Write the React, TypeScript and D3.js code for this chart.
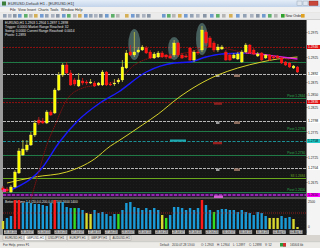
import React from 'react';
import * as d3 from 'd3';

// ---------- DATA ----------
const opens = [1.2664,1.2662,1.2656,1.2666,1.2694,1.2730,1.2740,1.2750,1.2770,1.2800,1.2798,1.2794,1.2816,1.2814,1.2860,1.2890,1.2910,1.2894,1.2880,1.2868,1.2878,1.2876,1.2874,1.2874,1.2870,1.2870,1.2896,1.2872,1.2872,1.2876,1.2880,1.2904,1.2936,1.2930,1.2936,1.2940,1.2944,1.2936,1.2924,1.2926,1.2934,1.2930,1.2928,1.2930,1.2954,1.2930,1.2928,1.2944,1.2920,1.2936,1.2940,1.2976,1.2964,1.2954,1.2940,1.2942,1.2936,1.2930,1.2924,1.2922,1.2916,1.2936,1.2950,1.2940,1.2928,1.2934,1.2924,1.2930,1.2926,1.2928,1.2924,1.2916,1.2914,1.2904,1.2906];
const highs = [1.2668,1.2666,1.2670,1.2700,1.2744,1.2760,1.2760,1.2776,1.2800,1.2806,1.2804,1.2820,1.2820,1.2864,1.2896,1.2914,1.2916,1.2900,1.2884,1.2894,1.2884,1.2880,1.2882,1.2878,1.2876,1.2900,1.2898,1.2876,1.2882,1.2884,1.2920,1.2940,1.2950,1.2976,1.2946,1.2950,1.2948,1.2940,1.2936,1.2938,1.2938,1.2932,1.2932,1.2960,1.2956,1.2934,1.2932,1.2946,1.2940,1.2940,1.2988,1.2980,1.2968,1.2958,1.2952,1.2950,1.2940,1.2934,1.2934,1.2936,1.2940,1.2954,1.2952,1.2944,1.2936,1.2936,1.2932,1.2932,1.2930,1.2930,1.2926,1.2918,1.2916,1.2910,1.2908];
const lows = [1.2656,1.2654,1.2654,1.2664,1.2692,1.2728,1.2736,1.2748,1.2766,1.2790,1.2792,1.2792,1.2808,1.2812,1.2858,1.2886,1.2892,1.2868,1.2868,1.2866,1.2870,1.2870,1.2872,1.2866,1.2868,1.2868,1.2868,1.2868,1.2868,1.2872,1.2876,1.2902,1.2928,1.2926,1.2934,1.2938,1.2932,1.2922,1.2922,1.2924,1.2924,1.2922,1.2922,1.2926,1.2926,1.2922,1.2924,1.2918,1.2916,1.2930,1.2936,1.2950,1.2944,1.2936,1.2936,1.2940,1.2918,1.2918,1.2922,1.2920,1.2914,1.2934,1.2932,1.2930,1.2926,1.2918,1.2922,1.2918,1.2922,1.2922,1.2912,1.2908,1.2904,1.2902,1.2894];
const closes = [1.2660,1.2658,1.2666,1.2696,1.2738,1.2742,1.2750,1.2770,1.2794,1.2794,1.2794,1.2816,1.2810,1.2860,1.2890,1.2910,1.2894,1.2870,1.2872,1.2880,1.2874,1.2874,1.2876,1.2868,1.2874,1.2896,1.2870,1.2870,1.2874,1.2880,1.2906,1.2934,1.2930,1.2936,1.2940,1.2946,1.2934,1.2924,1.2932,1.2934,1.2926,1.2926,1.2924,1.2954,1.2930,1.2924,1.2926,1.2920,1.2936,1.2934,1.2980,1.2954,1.2946,1.2940,1.2946,1.2946,1.2920,1.2920,1.2930,1.2932,1.2936,1.2950,1.2934,1.2932,1.2932,1.2920,1.2930,1.2920,1.2924,1.2924,1.2914,1.2910,1.2906,1.2908,1.2896];

const volumes = [800,1100,1300,2700,2700,2600,2700,2600,2500,2500,2400,2300,2600,2900,2700,2700,2200,2100,2100,2100,1900,1600,1500,1900,1600,1700,1500,1300,1500,1500,1900,2600,2700,2200,2100,1900,2100,1900,2100,1900,1400,1100,1400,2200,2200,2100,1900,2100,1900,2100,2700,2400,1900,1700,1900,2000,2000,1900,1900,1700,1900,1700,1600,1400,1700,1600,1300,1100,1100,1100,1300,1100,1200,1000,200];
const volumeTypes = ['low','n','n','climax','climax','n','n','n','n','n','n','n','n','climax','n','n','n','n','churn','n','n','low','low','n','n','n','n','n','n','churn','n','n','n','n','n','n','n','n','n','n','low','churn','n','n','n','n','n','n','n','n','climax','n','n','churn','n','n','n','n','n','n','n','n','n','n','n','n','n','low','low','low','n','n','n','low','low'];
const volumeAverage = 1600;

const fastMaIdx = [7,9,11,13,16,20,24,29,33,37,42,47,51,55,60,65,70,74];
const fastMaVal = [1.2642,1.2696,1.2750,1.2788,1.2840,1.2864,1.2870,1.2880,1.2910,1.2924,1.2930,1.2936,1.2946,1.2944,1.2936,1.2930,1.2924,1.2916];
const midMaUpIdx = [2,10,14,19,24,29,36,43,47,51,55,61];
const midMaUpVal = [1.2660,1.2706,1.2754,1.2800,1.2832,1.2856,1.2896,1.2914,1.2916,1.2926,1.2932,1.2934];
const midMaDownIdx = [61,64,68,72,74];
const midMaDownVal = [1.2934,1.2932,1.2928,1.2924,1.2922];
const slowMaIdx = [1,8,16,23,27,29,35,39,44,49,54,59,65,69,74];
const slowMaVal = [1.2674,1.2686,1.2696,1.2722,1.2748,1.2758,1.2790,1.2812,1.2844,1.2870,1.2890,1.2904,1.2916,1.2922,1.2926];

const markedBars = [33,43,50];

const greenLevels = [1.2916,1.2844,1.2778,1.2730,1.2656];
const grayLevels = [1.2892,1.2798,1.2704];
const redLevels = [1.2946,1.2836];
const tealLevels = [1.2758];
const limeLevels = [1.2684];
const purpleLevels = [1.2650];

const priceTicks = [1.2975,1.2950,1.2925,1.2900,1.2875,1.2850,1.2825,1.2800,1.2775,1.2750,1.2725,1.2700,1.2675];
const timeLabels = ['26 Jul 2010','26 Jul 07:00','26 Jul 15:00','26 Jul 23:00','27 Jul 07:00','27 Jul 15:00','27 Jul 23:00','28 Jul 07:00','28 Jul 15:00','28 Jul 23:00','29 Jul 07:00','29 Jul 15:00','29 Jul 23:00','30 Jul 07:00','30 Jul 15:00','30 Jul 23:00','02 Aug 07:00','02 Aug 15:00'];
const menuItems = ['File','View','Insert','Charts','Tools','Window','Help'];
const tabs = ['EURUSD,H1','GBPUSD,H1','USDJPY,H1','EURJPY,H1','GBPJPY,H1','AUDUSD,H1'];
const infoLines = ['EURUSD,H1  1.2903 1.2904 1.2897 1.2898','Trigger: 0.0000    Market Range Reached: 32','Swing: 0.0000    Current Range Reached: 0.0014','Pivots: 1.2893'];
const statusItems = ['Default','2010.07.28 13:00','O: 1.2903','H: 1.2904','L: 1.2897','C: 1.2898','V: 52'];

// ---------- LAYOUT ----------
const W = 320, H = 248;
const plotL = 3, plotR = 306;
const mainTop = 20;
const volTop = 199, volBot = 229;

export default function App() {
  const x = d3.scaleLinear().domain([0, 74]).range([3, 297.5]);
  const y = d3.scaleLinear().domain([1.264, 1.3]).range([200, 20]);
  const yv = d3.scaleLinear().domain([0, 3000]).range([volBot, volBot - 30]);
  const bw = 2.7;

  const line = (idx: number[], val: number[]) =>
    d3.line<number>().x((_, k) => x(idx[k])).y((v) => y(v)).curve(d3.curveMonotoneX)(val) || '';

  const volColor = (t: string) => t === 'climax' ? '#ff1a1a' : t === 'low' ? '#d8d830' : t === 'churn' ? '#33dd22' : '#1a9ad6';
  const font = 'Liberation Sans, Arial, sans-serif';

  const levelLine = (p: number, color: string, dash: string | undefined, w: number, key: string) => (
    <line key={key} x1={plotL} x2={plotR} y1={Math.round(y(p)) + 0.5} y2={Math.round(y(p)) + 0.5} stroke={color} strokeWidth={w} strokeDasharray={dash} />
  );

  const axisBoxes: { p: number; bg: string; fg: string }[] = [
    ...redLevels.map((p) => ({ p, bg: '#e01010', fg: '#fff' })),
    ...grayLevels.map((p) => ({ p, bg: '#ffffff', fg: '#000' })),
    ...tealLevels.map((p) => ({ p, bg: '#20c8c8', fg: '#000' })),
    ...purpleLevels.map((p) => ({ p, bg: '#ff00ff', fg: '#000' })),
  ];
  const shownTicks = priceTicks.filter((p) => axisBoxes.every((b) => Math.abs(y(b.p) - y(p)) > 4.2));
  const statusX = [160, 172, 201, 217, 233, 249, 265];

  return (
    <svg width={W} height={H} style={{ position: 'absolute', left: 0, top: 0, fontFamily: font }}>
      <defs>
        <linearGradient id="tb" x1="0" y1="0" x2="0" y2="1">
          <stop offset="0" stopColor="#e4edf8" />
          <stop offset="1" stopColor="#c3d4ea" />
        </linearGradient>
        <pattern id="noise" width="3" height="3" patternUnits="userSpaceOnUse">
          <rect width="3" height="3" fill="#161616" />
          <rect x="1" y="1" width="1" height="1" fill="#1d1d1d" />
        </pattern>
      </defs>
      {/* window chrome */}
      <rect x={0} y={0} width={W} height={H} fill="#d6d3ce" />
      <rect x={0} y={0} width={W} height={7} fill="url(#tb)" />
      <rect x={2} y={1.5} width={4} height={4} fill="#3b7d3b" />
      <text x={8} y={5} fontSize={4} fill="#333">EURUSD,Default H1 - [EURUSD,H1]</text>
      <rect x={297} y={1} width={5} height={4.5} fill="#dfe6ef" stroke="#8899aa" strokeWidth={0.4} />
      <rect x={303} y={1} width={5} height={4.5} fill="#dfe6ef" stroke="#8899aa" strokeWidth={0.4} />
      <rect x={309} y={1} width={9} height={4.5} fill="#c9473a" stroke="#8a2a20" strokeWidth={0.4} />
      <rect x={0} y={7} width={W} height={5.5} fill="#f1f1f1" />
      {menuItems.map((m, k) => (
        <text key={m} x={[10, 18, 27, 38, 50, 61, 75][k]} y={11.3} fontSize={3.6} fill="#222">{m}</text>
      ))}
      <rect x={0} y={12.5} width={W} height={7.5} fill="#ebebeb" />
      <line x1={0} x2={W} y1={19.8} y2={19.8} stroke="#a0a0a0" strokeWidth={0.5} />
      {[3, 8, 13, 18, 24, 29, 34, 40, 45, 51, 56, 62, 67, 73, 78, 84, 89, 94, 99, 105, 111, 116, 125, 131, 136, 142, 147, 162, 167, 172, 178, 184, 190, 196, 203, 210, 216, 222, 229, 236, 243, 250, 256, 262, 268, 274].map((ix, k) => (
        <rect key={'ic' + k} x={ix} y={14} width={3.6} height={3.6}
          fill={[ '#7d8fa8', '#9aa5b4', '#6f7f95', '#4f86c6', '#3aa04a', '#a8a8a8', '#d0a030', '#5588cc' ][k % 8]} opacity={0.8} />
      ))}
      <rect x={281} y={14} width={3.6} height={3.6} fill="#2da02d" />
      <text x={285.5} y={17.3} fontSize={3.4} fill="#222">New Order</text>
      <rect x={301} y={14} width={3.6} height={3.6} fill="#e0a020" />

      {/* chart background */}
      <rect x={0} y={20} width={W} height={216} fill="#9c9c9c" />
      <rect x={plotL} y={mainTop} width={plotR - plotL} height={volBot - mainTop} fill="url(#noise)" />
      <line x1={plotL} x2={plotR} y1={198} y2={198} stroke="#8a8a8a" strokeWidth={1} />

      {/* levels */}
      {redLevels.map((p, k) => levelLine(p, '#8a1010', '2 1', 1, 'r' + k))}
      {greenLevels.map((p, k) => levelLine(p, '#1f7a46', undefined, 1.2, 'g' + k))}
      {grayLevels.map((p, k) => levelLine(p, '#b8b8b8', '3 1', 1, 'gr' + k))}
      {tealLevels.map((p, k) => levelLine(p, '#1c8f94', '3 1.5', 1.2, 't' + k))}
      {limeLevels.map((p, k) => levelLine(p, '#6aa81e', undefined, 1, 'l' + k))}
      {purpleLevels.map((p, k) => (
        <g key={'p' + k}>
          <rect x={plotL} y={y(p) - 1.5} width={plotR - plotL} height={3} fill="#3a1450" />
          <line x1={plotL} x2={plotR} y1={y(p)} y2={y(p)} stroke="#b02ad0" strokeWidth={1.4} strokeDasharray="3 1.5" />
        </g>
      ))}
      {/* level labels */}
      {grayLevels.map((p, k) => (
        <g key={'gl' + k}>
          <rect x={216} y={y(p) + 0.5} width={3.5} height={2.5} fill="#9a9a9a" />
          <rect x={234} y={y(p) + 0.5} width={6} height={2.5} fill="#8a6a5a" />
        </g>
      ))}
      {redLevels.slice(1).map((p, k) => (
        <rect key={'rl' + k} x={214} y={y(p) + 0.3} width={8} height={2.5} fill="#8a2020" />
      ))}
      {tealLevels.map((p, k) => (
        <g key={'tl' + k}>
          <rect x={170} y={y(p) - 1.5} width={16} height={2.2} fill="#1fa8b0" />
          <rect x={213} y={y(p) + 0.8} width={9} height={2.5} fill="#9a2020" />
        </g>
      ))}
      {purpleLevels.map((p, k) => (
        <rect key={'pl' + k} x={214} y={y(p) + 0.5} width={9} height={2.5} fill="#d060d0" />
      ))}
      {greenLevels.slice(1).map((p, k) => (
        <text key={'glt' + k} x={305} y={y(p) - 0.7} fontSize={3.2} fill="#2fae4e" textAnchor="end">{'Pivot ' + p.toFixed(4)}</text>
      ))}
      <text x={305} y={y(limeLevels[0]) - 0.7} fontSize={3.2} fill="#6aa81e" textAnchor="end">{'S3 ' + limeLevels[0].toFixed(4)}</text>

      {/* highlight ellipses */}
      {markedBars.map((i) => (
        <ellipse key={'e' + i} cx={x(i)} cy={(y(highs[i]) + y(lows[i])) / 2} rx={6}
          ry={(y(lows[i]) - y(highs[i])) / 2 + 3} fill="#7fb3b0" opacity={0.45} />
      ))}

      {/* moving averages */}
      <path d={line(slowMaIdx, slowMaVal)} fill="none" stroke="#d6d22a" strokeWidth={1} />
      <path d={line(midMaUpIdx, midMaUpVal)} fill="none" stroke="#1a1aff" strokeWidth={1.4} />
      <path d={line(midMaDownIdx, midMaDownVal)} fill="none" stroke="#e020e0" strokeWidth={1.4} />
      <path d={line(fastMaIdx, fastMaVal)} fill="none" stroke="#8b1010" strokeWidth={0.9} strokeDasharray="1.5 0.6" />

      {/* candles */}
      {opens.map((o, i) => {
        const c = closes[i];
        const up = c >= o;
        const col = up ? '#ffff00' : '#ff1010';
        const top = y(Math.max(o, c));
        const hgt = Math.max(1, Math.abs(y(o) - y(c)));
        return (
          <g key={'c' + i}>
            <line x1={x(i)} x2={x(i)} y1={y(highs[i])} y2={y(lows[i])} stroke={up ? '#c8c840' : '#d02020'} strokeWidth={0.8} />
            <rect x={x(i) - bw / 2} y={top} width={bw} height={hgt} fill={col} stroke={up ? '#f0f0a0' : '#ff3030'} strokeWidth={0.3} />
          </g>
        );
      })}
      <rect x={3} y={y(1.2662)} width={3} height={3} fill="#ff2aa0" />

      {/* info text */}
      {infoLines.map((t, k) => (
        <text key={'in' + k} x={5} y={24 + k * 4} fontSize={3.3} fill="#e8e8e8">{t}</text>
      ))}

      {/* volume window */}
      <text x={5} y={202.5} fontSize={3.2} fill="#e8e8e8">Better Volume 1.4 (20,0.0,200,0,0) 2500 1600 1400</text>
      {volumes.map((v, i) => (
        <rect key={'v' + i} x={x(i) - 1.2} y={volumeTypes[i] === 'climax' ? volTop + 1 : yv(v)} width={2.4}
          height={volumeTypes[i] === 'climax' ? volBot - volTop - 1 : volBot - yv(v)} fill={volColor(volumeTypes[i])} />
      ))}
      <line x1={plotL} x2={plotR} y1={yv(volumeAverage)} y2={yv(volumeAverage)} stroke="#c02020" strokeWidth={0.7} strokeDasharray="1 1" />

      {/* right axis */}
      <rect x={plotR} y={mainTop} width={W - plotR} height={volBot - mainTop + 6} fill="#f4f4f4" />
      <line x1={plotR + 0.5} x2={plotR + 0.5} y1={mainTop} y2={volBot + 6} stroke="#777" strokeWidth={1} />
      {shownTicks.map((p) => (
        <g key={'pt' + p}>
          <line x1={plotR} x2={plotR + 1.5} y1={y(p)} y2={y(p)} stroke="#333" strokeWidth={0.5} />
          <text x={308} y={y(p) + 1.2} fontSize={3.3} fill="#222">{p.toFixed(4)}</text>
        </g>
      ))}
      {axisBoxes.map((b, k) => (
        <g key={'ab' + k}>
          <rect x={307} y={y(b.p) - 2} width={13} height={4} fill={b.bg} />
          <text x={308} y={y(b.p) + 1.2} fontSize={3.3} fill={b.fg}>{b.p.toFixed(4)}</text>
        </g>
      ))}
      <text x={308} y={203} fontSize={3.2} fill="#222">2500</text>
      <text x={308} y={228} fontSize={3.2} fill="#222">0</text>

      {/* time axis */}
      <rect x={plotL} y={volBot} width={plotR - plotL} height={6} fill="#1a1a1a" />
      {timeLabels.map((t, k) => (
        <g key={'tl' + k}>
          <rect x={4 + k * 16.8} y={230.2} width={13} height={3.6} fill="#c4c4c4" />
          <text x={4.5 + k * 16.8} y={233.2} fontSize={2.8} fill="#222">{t}</text>
        </g>
      ))}
      {/* tabs */}
      <rect x={0} y={235} width={W} height={6.5} fill="#d8d5d0" />
      {tabs.map((t, k) => (
        <g key={'tab' + k}>
          <rect x={3 + k * 21.5} y={235.6} width={20.5} height={5} fill={k === 1 ? '#ffffff' : '#e6e3de'} stroke="#9a9a9a" strokeWidth={0.4} />
          <text x={5 + k * 21.5} y={239.4} fontSize={3} fill="#333">{t}</text>
        </g>
      ))}
      {/* status bar */}
      <rect x={0} y={241.5} width={W} height={6.5} fill="#ecebe8" />
      <line x1={0} x2={W} y1={241.7} y2={241.7} stroke="#a8a8a8" strokeWidth={0.4} />
      <text x={3} y={245.8} fontSize={3.2} fill="#333">For Help, press F1</text>
      {statusItems.map((s, k) => (
        <text key={'st' + k} x={statusX[k]} y={245.8} fontSize={2.9} fill="#333">{s}</text>
      ))}
      <rect x={280} y={243} width={6} height={3.5} fill="#2a9a3a" />
      <rect x={283} y={243} width={3} height={3.5} fill="#d03030" />
      <text x={290} y={245.8} fontSize={3} fill="#333">1656/4 kb</text>
    </svg>
  );
}
